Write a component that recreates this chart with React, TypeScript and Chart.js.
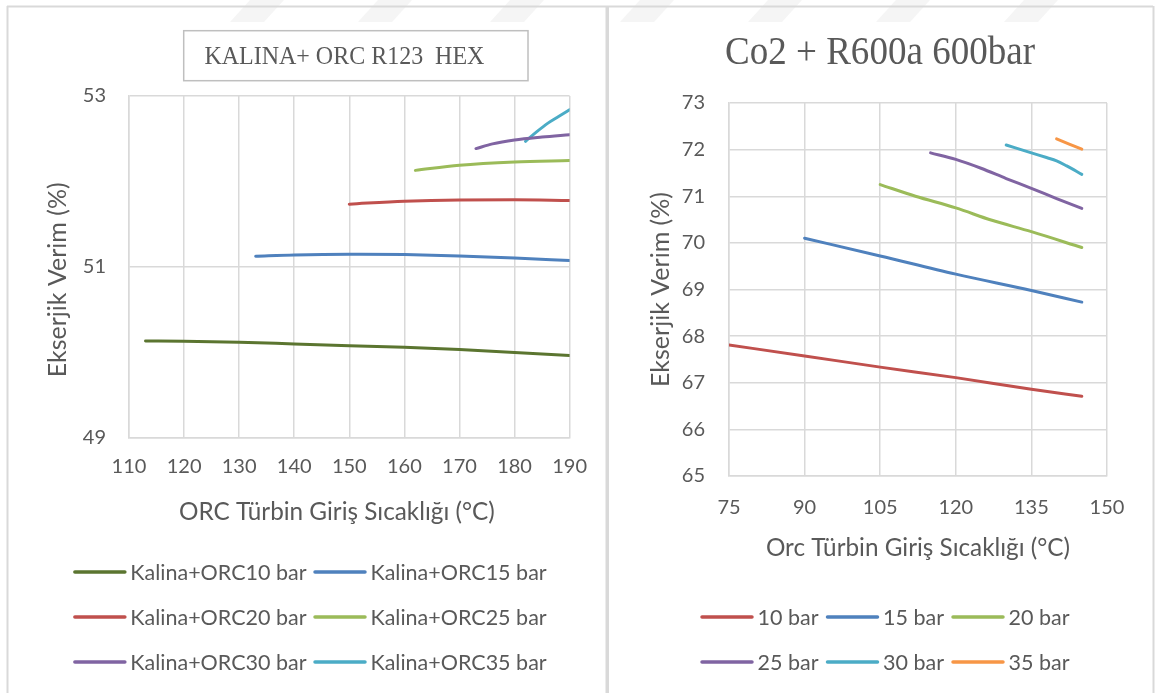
import React, { useEffect, useRef } from "react";
import { Chart, registerables } from "chart.js";

Chart.register(...registerables);

const TEXT = "#595959";
const GRID = "#d9d9d9";
const SANS = 'Lato, "Open Sans", sans-serif';
const SERIF = '"Liberation Serif", "DejaVu Serif", serif';

// ---------- Left chart: KALINA+ ORC R123 HEX ----------
const leftTitle = "KALINA+ ORC R123  HEX";
const leftXTitle = "ORC Türbin Giriş Sıcaklığı (°C)    ";
const leftYTitle = "Ekserjik Verim (%)    ";
const leftXTicks = { min: 110, max: 190, step: 10 };
const leftYTicks = { min: 49, max: 53, step: 2 };
const leftLabels = [
  "Kalina+ORC10 bar",
  "Kalina+ORC15 bar",
  "Kalina+ORC20 bar",
  "Kalina+ORC25 bar",
  "Kalina+ORC30 bar",
  "Kalina+ORC35 bar",
];
const leftColors = ["#5b7530", "#4f81bd", "#c0504d", "#9bbb59", "#8064a2", "#4bacc6"];

const k10T = [113, 120, 130, 140, 150, 160, 170, 180, 190];
const k10E = [50.135, 50.132, 50.12, 50.1, 50.08, 50.06, 50.035, 50.0, 49.965];
const k15T = [133, 140, 150, 160, 170, 180, 190];
const k15E = [51.125, 51.14, 51.148, 51.145, 51.13, 51.105, 51.075];
const k20T = [150, 160, 170, 180, 190];
const k20E = [51.735, 51.77, 51.785, 51.787, 51.778];
const k25T = [162, 170, 180, 190];
const k25E = [52.13, 52.19, 52.228, 52.245];
const k30T = [173, 176, 180, 185, 190];
const k30E = [52.385, 52.44, 52.485, 52.52, 52.548];
const k35T = [182, 184, 186, 188, 190];
const k35E = [52.47, 52.58, 52.68, 52.76, 52.84];

const leftT = [k10T, k15T, k20T, k25T, k30T, k35T];
const leftE = [k10E, k15E, k20E, k25E, k30E, k35E];

// ---------- Right chart: Co2 + R600a 600bar ----------
const rightTitle = "Co2 + R600a 600bar";
const rightXTitle = "Orc Türbin Giriş Sıcaklığı (°C)";
const rightYTitle = "Ekserjik Verim (%)";
const rightXTicks = { min: 75, max: 150, step: 15 };
const rightYTicks = { min: 65, max: 73, step: 1 };
const rightLabels = ["10 bar", "15 bar", "20 bar", "25 bar", "30 bar", "35 bar"];
const rightColors = ["#c0504d", "#4f81bd", "#9bbb59", "#8064a2", "#4bacc6", "#f79646"];

const c10T = [75, 90, 105, 120, 135, 145];
const c10E = [67.81, 67.575, 67.335, 67.11, 66.86, 66.71];
const c15T = [90, 105, 120, 135, 145];
const c15E = [70.1, 69.72, 69.33, 68.98, 68.73];
const c20T = [105, 112, 120, 127, 135, 145];
const c20E = [71.25, 71.0, 70.75, 70.49, 70.24, 69.9];
const c25T = [115, 120, 125, 130, 135, 140, 145];
const c25E = [71.93, 71.79, 71.6, 71.38, 71.17, 70.95, 70.74];
const c30T = [130, 135, 138, 140, 142, 145];
const c30E = [72.1, 71.93, 71.83, 71.76, 71.65, 71.47];
const c35T = [140, 145];
const c35E = [72.23, 72.01];

const rightT = [c10T, c15T, c20T, c25T, c30T, c35T];
const rightE = [c10E, c15E, c20E, c25E, c30E, c35E];

// ---------- plugins ----------
const gridLegend = {
  id: "gridLegend",
  afterDraw(chart: any, _args: any, o: any) {
    if (!o || !o.columns) return;
    const ctx = chart.ctx as CanvasRenderingContext2D;
    const ds = chart.data.datasets;
    ctx.save();
    ctx.font = `${o.fontSize}px ${SANS}`;
    ctx.textBaseline = "middle";
    ctx.textAlign = "left";
    const cols = o.columns;
    const colW: number[] = [];
    ds.forEach((d: any, i: number) => {
      const c = i % cols;
      const w = o.lineLength + o.textGap + ctx.measureText(d.label).width;
      colW[c] = Math.max(colW[c] || 0, w);
    });
    const total = colW.reduce((a, b) => a + b, 0) + o.itemGap * (cols - 1);
    const startX = o.centerX - total / 2;
    ds.forEach((d: any, i: number) => {
      const c = i % cols;
      const r = Math.floor(i / cols);
      let x = startX;
      for (let k = 0; k < c; k++) x += colW[k] + o.itemGap;
      const y = o.top + r * o.rowGap;
      ctx.strokeStyle = d.borderColor;
      ctx.lineWidth = 3.5;
      ctx.lineCap = "round";
      ctx.beginPath();
      ctx.moveTo(x + 1.5, y);
      ctx.lineTo(x + o.lineLength - 1.5, y);
      ctx.stroke();
      ctx.fillStyle = TEXT;
      ctx.fillText(d.label, x + o.lineLength + o.textGap, y + 1);
    });
    ctx.restore();
  },
};

const fitTitle = {
  id: "fitTitle",
  afterDraw(chart: any, _args: any, o: any) {
    if (!o || !o.text) return;
    const ctx = chart.ctx as CanvasRenderingContext2D;
    ctx.save();
    if (o.box) {
      ctx.strokeStyle = "#bfbfbf";
      ctx.lineWidth = 1.5;
      ctx.strokeRect(o.box[0], o.box[1], o.box[2], o.box[3]);
    }
    ctx.font = `${o.size}px ${SERIF}`;
    const w = ctx.measureText(o.text).width;
    const sx = o.width ? o.width / w : 1;
    ctx.fillStyle = TEXT;
    ctx.textBaseline = "alphabetic";
    ctx.textAlign = o.align || "left";
    ctx.translate(o.x, o.y);
    ctx.scale(sx, 1);
    ctx.fillText(o.text, 0, 0);
    ctx.restore();
  },
};

type Cfg = {
  labels: string[];
  colors: string[];
  xs: number[][];
  ys: number[][];
  xTicks: { min: number; max: number; step: number };
  yTicks: { min: number; max: number; step: number };
  xTitle: string;
  yTitle: string;
  padding: { left: number; right: number; top: number; bottom: number };
  yWidth: number;
  xHeight: number;
  yTickPad: number;
  xTickPad: number;
  yTitlePad: number;
  tickSize: number;
  xTitleSize: number;
  yTitleSize: number;
  legend: any;
  title: any;
};

function buildConfig(c: Cfg): any {
  const datasets = c.labels.map((label, i) => ({
    label,
    data: c.xs[i].map((x, j) => ({ x, y: c.ys[i][j] })),
    borderColor: c.colors[i],
    backgroundColor: c.colors[i],
    borderWidth: 3,
    borderCapStyle: "round",
    borderJoinStyle: "round",
    pointRadius: 0,
    pointHoverRadius: 0,
    cubicInterpolationMode: "monotone",
    fill: false,
  }));
  return {
    type: "line",
    data: { datasets },
    plugins: [gridLegend, fitTitle],
    options: {
      animation: false,
      responsive: false,
      devicePixelRatio: 1,
      layout: { padding: c.padding },
      plugins: {
        legend: { display: false },
        title: { display: false },
        tooltip: { enabled: false },
        gridLegend: c.legend,
        fitTitle: c.title,
      },
      scales: {
        x: {
          type: "linear",
          min: c.xTicks.min,
          max: c.xTicks.max,
          ticks: {
            stepSize: c.xTicks.step,
            autoSkip: false,
            maxRotation: 0,
            padding: c.xTickPad,
            color: TEXT,
            font: { family: SANS, size: c.tickSize },
          },
          grid: { color: GRID, lineWidth: 1.5, drawTicks: false },
          border: { color: GRID, width: 1.5 },
          title: {
            display: true,
            text: c.xTitle,
            color: TEXT,
            font: { family: SANS, size: c.xTitleSize },
            padding: { top: 0, bottom: 0 },
          },
          afterFit: (s: any) => {
            s.height = c.xHeight;
          },
        },
        y: {
          type: "linear",
          min: c.yTicks.min,
          max: c.yTicks.max,
          ticks: {
            stepSize: c.yTicks.step,
            padding: c.yTickPad,
            color: TEXT,
            font: { family: SANS, size: c.tickSize },
          },
          grid: { color: GRID, lineWidth: 1.5, drawTicks: false },
          border: { color: GRID, width: 1.5 },
          title: {
            display: true,
            text: c.yTitle,
            color: TEXT,
            font: { family: SANS, size: c.yTitleSize },
            padding: { top: c.yTitlePad, bottom: 0 },
          },
          afterFit: (s: any) => {
            s.width = c.yWidth;
          },
        },
      },
    },
  };
}

function ChartCanvas(props: { cfg: Cfg; left: number; top: number; width: number; height: number }) {
  const ref = useRef<HTMLCanvasElement | null>(null);
  useEffect(() => {
    if (!ref.current) return;
    const chart = new Chart(ref.current, buildConfig(props.cfg));
    return () => chart.destroy();
  }, []);
  return (
    <canvas
      ref={ref}
      width={props.width}
      height={props.height}
      style={{
        position: "absolute",
        left: props.left,
        top: props.top,
        width: props.width,
        height: props.height,
      }}
    />
  );
}

const leftCfg: Cfg = {
  labels: leftLabels,
  colors: leftColors,
  xs: leftT,
  ys: leftE,
  xTicks: leftXTicks,
  yTicks: leftYTicks,
  xTitle: leftXTitle,
  yTitle: leftYTitle,
  padding: { left: 0, right: 32, top: 88, bottom: 166.4 },
  yWidth: 119,
  xHeight: 88.6,
  yTickPad: 23,
  xTickPad: 17,
  yTitlePad: 33,
  tickSize: 20,
  xTitleSize: 24.3,
  yTitleSize: 25,
  legend: { columns: 2, centerX: 300, top: 564, rowGap: 45, lineLength: 53, textGap: 4, itemGap: 7, fontSize: 21.5 },
  title: { text: leftTitle, size: 26, width: 280, x: 194.4, y: 56, align: "left", box: [173.7, 22.7, 344.3, 50] },
};

const rightCfg: Cfg = {
  labels: rightLabels,
  colors: rightColors,
  xs: rightT,
  ys: rightE,
  xTicks: rightXTicks,
  yTicks: rightYTicks,
  xTitle: rightXTitle,
  yTitle: rightYTitle,
  padding: { left: 0, right: 45, top: 95, bottom: 130.4 },
  yWidth: 119,
  xHeight: 86.6,
  yTickPad: 24,
  xTickPad: 20,
  yTitlePad: 35.5,
  tickSize: 20,
  xTitleSize: 24.3,
  yTitleSize: 25,
  legend: { columns: 3, centerX: 275, top: 609, rowGap: 45, lineLength: 53, textGap: 4, itemGap: 7.5, fontSize: 21.5 },
  title: { text: rightTitle, size: 41, width: 310, x: 270, y: 55.5, align: "center" },
};

const stripes = [250, 378, 510, 640, 768, 896, 1024];

export default function App() {
  return (
    <div
      style={{
        position: "absolute",
        left: 0,
        top: 0,
        width: 1155,
        height: 693,
        background: "#ffffff",
        overflow: "hidden",
      }}
    >
      <svg width={1155} height={693} style={{ position: "absolute", left: 0, top: 0 }}>
        {stripes.map((s) => (
          <polygon key={s} points={`${s},0 ${s + 34},0 ${s + 14},22 ${s - 20},22`} fill="#f5f5f5" />
        ))}
        <rect x={7} y={5.5} width={1146} height={2} fill={GRID} />
        <rect x={6.5} y={6} width={2} height={687} fill={GRID} />
        <rect x={605.5} y={6} width={3.5} height={687} fill={GRID} />
        <rect x={1152.5} y={6} width={2} height={687} fill={GRID} />
      </svg>
      <ChartCanvas cfg={leftCfg} left={10} top={8} width={594} height={685} />
      <ChartCanvas cfg={rightCfg} left={610} top={8} width={542} height={685} />
    </div>
  );
}
